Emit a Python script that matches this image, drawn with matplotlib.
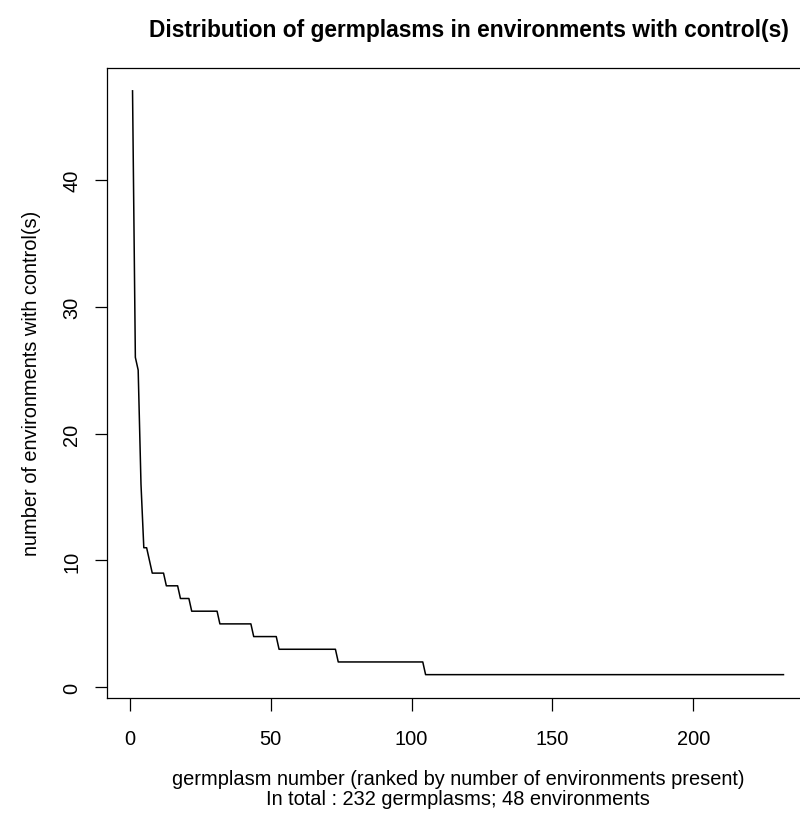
import numpy as np
import matplotlib
matplotlib.use("Agg")
import matplotlib.pyplot as plt

# number of environments (with controls) in which a germplasm is present
env_levels = [47, 26, 25, 16, 11, 10, 9, 8, 7, 6, 5, 4, 3, 2, 1]
# number of germplasms found at each of those levels
n_germplasms = [1, 1, 1, 1, 2, 1, 5, 5, 4, 10, 12, 9, 21, 31, 128]

x_ticks = [0, 50, 100, 150, 200]
y_ticks = [0, 10, 20, 30, 40]

title = "Distribution of germplasms in environments with control(s)"
xlab = "germplasm number (ranked by number of environments present)\nIn total : 232 germplasms; 48 environments"
ylab = "number of environments with control(s)"

counts = np.repeat(env_levels, n_germplasms)
rank = np.arange(1, len(counts) + 1)

plt.rcParams['font.family'] = ['Liberation Sans', 'DejaVu Sans']

W, H = 800, 820
fig = plt.figure(figsize=(W / 100, H / 100), dpi=100)
left, right, top, bottom = 106.5, 809.5, 68.5, 699.0
ax = fig.add_axes([left / W, 1 - bottom / H, (right - left) / W, (bottom - top) / H])

ax.plot(rank, counts, color='black', linewidth=1.1)

xr = rank.max() - rank.min()
yr = counts.max() - counts.min()
ax.set_xlim(rank.min() - 0.04 * xr, rank.max() + 0.04 * xr)
ax.set_ylim(counts.min() - 0.04 * yr, counts.max() + 0.04 * yr)

ax.set_xticks(x_ticks)
ax.set_yticks(y_ticks)
ax.tick_params(axis='both', direction='out', length=9, width=0.9, labelsize=14.4, colors='black')
ax.tick_params(axis='x', pad=13)
ax.tick_params(axis='y', pad=9)
for lab in ax.get_yticklabels():
    lab.set_rotation(90)
    lab.set_va('center')
for s in ax.spines.values():
    s.set_linewidth(0.9)

fig.text(469 / W, 1 - 30 / H, title, ha='center', va='center',
         fontsize=16.4, fontweight='bold')
fig.text((left + right) / 2 / W, 1 - 770 / H, xlab, ha='center', va='top',
         fontsize=14.4, linespacing=1.05)
fig.text(32 / W, 1 - (top + bottom) / 2 / H, ylab, ha='center', va='center',
         rotation=90, fontsize=14.4)

fig.savefig("out.png", dpi=100)
